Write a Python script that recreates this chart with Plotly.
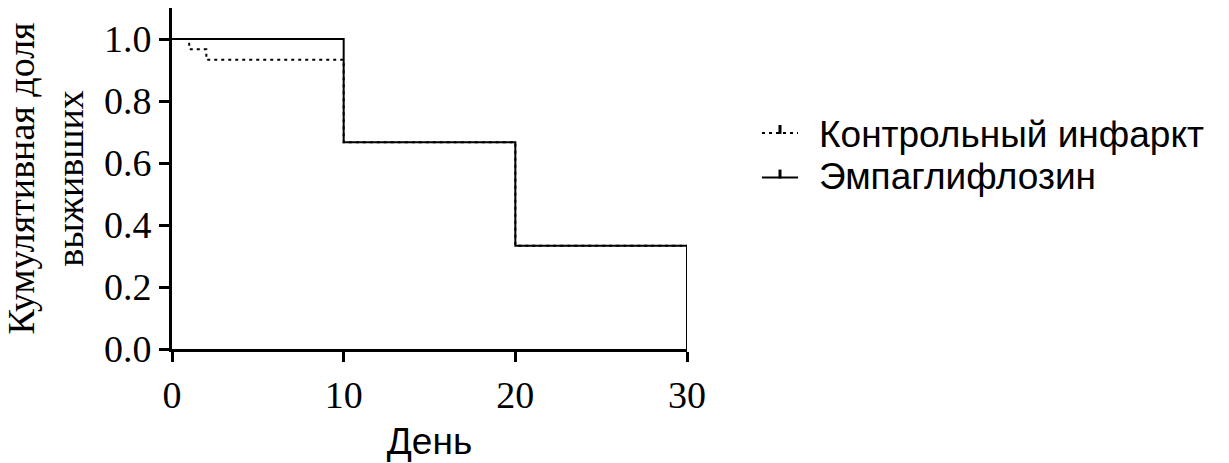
import plotly.graph_objects as go

# Kaplan-Meier survival steps
control_days = [0, 1, 2, 10, 20, 30]
control_surv = [1.0, 0.967, 0.933, 0.667, 0.333, 0.0]
empa_days = [0, 10, 20, 30]
empa_surv = [1.0, 0.667, 0.333, 0.0]

series_names = ["Контрольный инфаркт", "Эмпаглифлозин"]
x_ticks = [0, 10, 20, 30]
y_ticks = [0.0, 0.2, 0.4, 0.6, 0.8, 1.0]

SERIF = "Liberation Serif, Times New Roman, serif"
SANS = "Liberation Sans, Arial, sans-serif"

fig = go.Figure()
fig.add_trace(go.Scatter(
    x=control_days, y=control_surv, mode="lines", line_shape="hv",
    line=dict(color="black", width=2, dash="3px,4px"),
    name=series_names[0], showlegend=False, cliponaxis=False,
))
fig.add_trace(go.Scatter(
    x=empa_days, y=empa_surv, mode="lines", line_shape="hv",
    line=dict(color="black", width=2),
    name=series_names[1], showlegend=False, cliponaxis=False,
))

W, H = 1229, 463
L, R, T, B = 172, 542, 8, 111
PW, PH = W - L - R, H - T - B


def fx(xp):
    # page pixel x -> paper fraction
    return (xp - L) / PW


def fy(yp):
    # page pixel y -> paper fraction
    return (H - B - yp) / PH


# legend: short line sample with a small tick, then the label
shapes = []
annotations = []
legend_rows = [(134, 136, "3px,4px"), (179, 178, "solid")]
for (ys, yt, dash), label in zip(legend_rows, series_names):
    shapes.append(dict(type="line", xref="paper", yref="paper",
                       x0=fx(762), x1=fx(798), y0=fy(ys), y1=fy(ys),
                       line=dict(color="black", width=2, dash=dash)))
    shapes.append(dict(type="line", xref="paper", yref="paper",
                       x0=fx(780), x1=fx(780), y0=fy(ys + 1), y1=fy(ys - 8),
                       line=dict(color="black", width=3)))
    annotations.append(dict(
        xref="paper", yref="paper", x=fx(817), y=fy(yt),
        text=label, showarrow=False, xanchor="left", yanchor="middle",
        font=dict(family=SANS, size=37, color="black"),
    ))

fig.update_layout(
    width=W, height=H,
    margin=dict(l=L, r=R, t=T, b=B, pad=0),
    paper_bgcolor="white", plot_bgcolor="white",
    shapes=shapes, annotations=annotations,
    xaxis=dict(
        range=[0, 30], tickvals=x_ticks, ticktext=[str(v) for v in x_ticks],
        showgrid=False, zeroline=False, showline=True, linecolor="black", linewidth=3,
        ticks="outside", ticklen=10, tickwidth=3, tickcolor="black",
        tickfont=dict(family=SERIF, size=38, color="black"),
        title=dict(text="День", font=dict(family=SANS, size=37, color="black"), standoff=14),
    ),
    yaxis=dict(
        range=[0, 1.1], tickvals=y_ticks, ticktext=[f"{v:.1f}" for v in y_ticks],
        showgrid=False, zeroline=False, showline=True, linecolor="black", linewidth=3,
        ticks="outside", ticklen=10, tickwidth=3, tickcolor="black",
        tickfont=dict(family=SERIF, size=38, color="black"),
        title=dict(text="Кумулятивная доля<br>выживших",
                   font=dict(family=SERIF, size=38, color="black"), standoff=10),
    ),
)

fig.write_html("out.html")
